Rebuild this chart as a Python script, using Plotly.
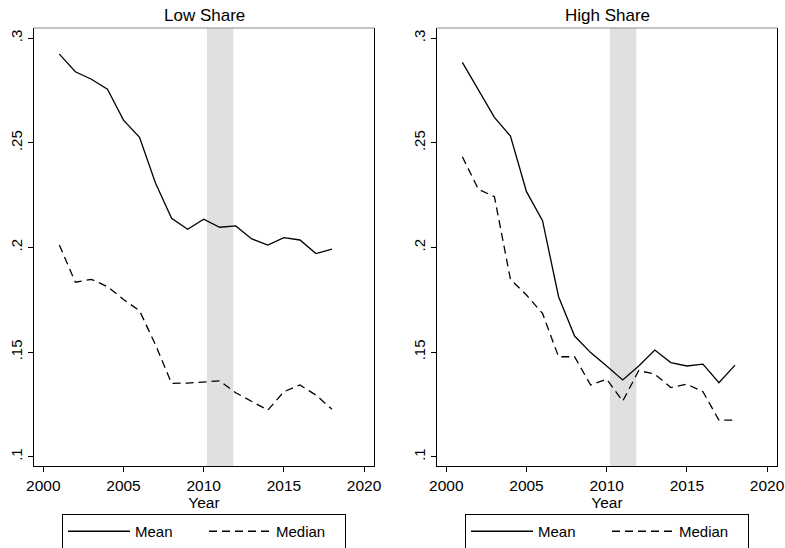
import plotly.graph_objects as go

years = list(range(2001, 2019))

low_mean = [0.2924, 0.2840, 0.2804, 0.2756, 0.2609, 0.2527, 0.2307, 0.2140, 0.2087,
            0.2135, 0.2097, 0.2103, 0.2041, 0.2012, 0.2047, 0.2036, 0.1971, 0.1992]
low_median = [0.2012, 0.1834, 0.1848, 0.1813, 0.1752, 0.1698, 0.1535, 0.1351, 0.1352,
              0.1358, 0.1363, 0.1306, 0.1263, 0.1223, 0.1311, 0.1343, 0.1295, 0.1227]
high_mean = [0.2885, 0.2753, 0.2622, 0.2533, 0.2267, 0.2128, 0.1765, 0.1577, 0.1498,
             0.1434, 0.1367, 0.1434, 0.1510, 0.1450, 0.1434, 0.1443, 0.1354, 0.1438]
high_median = [0.2434, 0.2278, 0.2243, 0.1848, 0.1773, 0.1685, 0.1478, 0.1478, 0.1343,
               0.1371, 0.1266, 0.1412, 0.1395, 0.1331, 0.1347, 0.1311, 0.1175, 0.1175]

titles = ["Low Share", "High Share"]
shade = [2010.2, 2011.85]
x_ticks = [2000, 2005, 2010, 2015, 2020]
y_ticks = [0.1, 0.15, 0.2, 0.25, 0.3]
y_tick_labels = [".1", ".15", ".2", ".25", ".3"]

W, H = 785, 548
FONT = "Liberation Sans, Arial, Helvetica, sans-serif"

fig = go.Figure()

panels = [
    (low_mean, low_median, "x", "y", "legend", (34, 374)),
    (high_mean, high_median, "x2", "y2", "legend2", (437, 777)),
]
ydom = [1 - 466 / H, 1 - 28 / H]

for i, (mean, median, xa, ya, lg, (px0, px1)) in enumerate(panels):
    fig.add_trace(go.Scatter(x=years, y=mean, mode="lines", name="Mean",
                             line=dict(color="black", width=1.3),
                             xaxis=xa, yaxis=ya, legend=lg))
    fig.add_trace(go.Scatter(x=years, y=median, mode="lines", name="Median",
                             line=dict(color="black", width=1.3, dash="8px,5px"),
                             xaxis=xa, yaxis=ya, legend=lg))
    sfx = "" if i == 0 else "2"
    axis_x = dict(domain=[px0 / W, px1 / W], range=[1999.42, 2020.62],
                  tickvals=x_ticks, ticks="outside", ticklen=5, tickcolor="black",
                  showline=True, linecolor="black", linewidth=1.2, showgrid=False,
                  zeroline=False, anchor="y" + sfx, automargin=False,
                  ticklabeloverflow="allow",
                  tickfont=dict(size=15.5, color="black", family=FONT),
                  title=dict(text="Year", font=dict(size=15.5, color="black", family=FONT), standoff=0))
    axis_y = dict(domain=ydom, range=[0.0956, 0.3049], tickvals=y_ticks,
                  ticktext=y_tick_labels, tickangle=-90, ticks="outside", ticklen=5,
                  tickcolor="black", showline=True, linecolor="black", linewidth=1.2,
                  mirror=True, showgrid=False, zeroline=False, anchor="x" + sfx,
                  automargin=False, ticklabeloverflow="allow",
                  tickfont=dict(size=15, color="black", family=FONT))
    fig.update_layout(**{"xaxis" + sfx: axis_x, "yaxis" + sfx: axis_y})
    fig.add_shape(type="rect", x0=shade[0], x1=shade[1], y0=0, y1=1,
                  xref=xa, yref=ya + " domain", fillcolor="#e0e0e0",
                  line_width=0, layer="below")
    # top frame line (gray)
    fig.add_shape(type="line", xref=xa + " domain", yref=ya + " domain",
                  x0=0, x1=1, y0=1, y1=1, line=dict(color="#8c8c8c", width=1.2))
    fig.add_annotation(text=titles[i], xref=xa + " domain", yref="paper",
                       x=0.5, y=1 - 16 / H, yanchor="middle", showarrow=False,
                       font=dict(size=17, color="black", family=FONT))

legend_common = dict(orientation="h", xanchor="center", yanchor="top",
                     bordercolor="black", borderwidth=1, bgcolor="white",
                     font=dict(size=15, color="black", family=FONT),
                     itemwidth=62, entrywidth=64, entrywidthmode="pixels",
                     y=1 - 514 / H)
fig.update_layout(
    template="none",
    width=W, height=H,
    margin=dict(l=0, r=0, t=0, b=0, autoexpand=False),
    paper_bgcolor="white", plot_bgcolor="white",
    font=dict(family=FONT, color="black"),
    showlegend=True,
    legend=dict(x=204 / W, **legend_common),
    legend2=dict(x=607 / W, **legend_common),
)

fig.write_html("out.html", config={"displayModeBar": False},
               post_script="document.body.style.margin='0';document.body.style.overflow='hidden';")
